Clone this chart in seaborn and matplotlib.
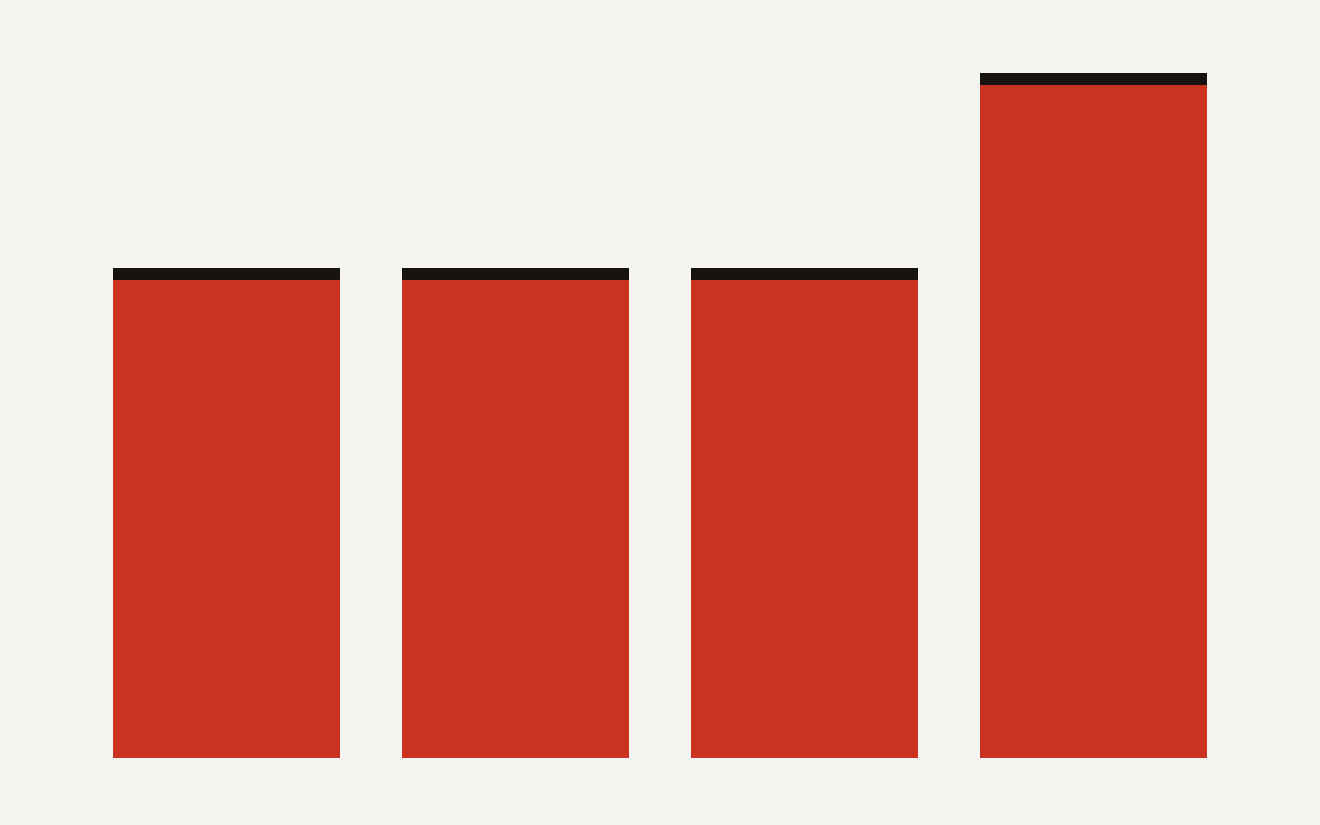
import matplotlib
matplotlib.use("Agg")
import matplotlib.pyplot as plt
import seaborn as sns
import pandas as pd

categories = ["A", "B", "C", "D"]
values = [5.0, 5.0, 5.0, 6.99]

BG = "#f5f4f0"
RED = "#c9331f"
CAP = "#161310"

sns.set_theme(style="white")
fig = plt.figure(figsize=(13.2, 8.25), dpi=100, facecolor=BG)
ax = fig.add_axes([0, 0, 1, 1])
ax.set_facecolor(BG)

df = pd.DataFrame({"cat": categories, "val": values})
ylim = (-0.684, 7.735)
cap = 12 / 825 * (ylim[1] - ylim[0])  # cap thickness ~12px in data units
df_red = df.assign(val=df["val"] - cap)

sns.barplot(data=df, x="cat", y="val", color=CAP, saturation=1, width=0.785,
            edgecolor="none", linewidth=0, ax=ax)
sns.barplot(data=df_red, x="cat", y="val", color=RED, saturation=1, width=0.785,
            edgecolor="none", linewidth=0, ax=ax)

ax.set_xlim(-0.7837, 3.7837)
ax.set_ylim(*ylim)
ax.axis("off")

fig.savefig("out.png", dpi=100, facecolor=BG)
